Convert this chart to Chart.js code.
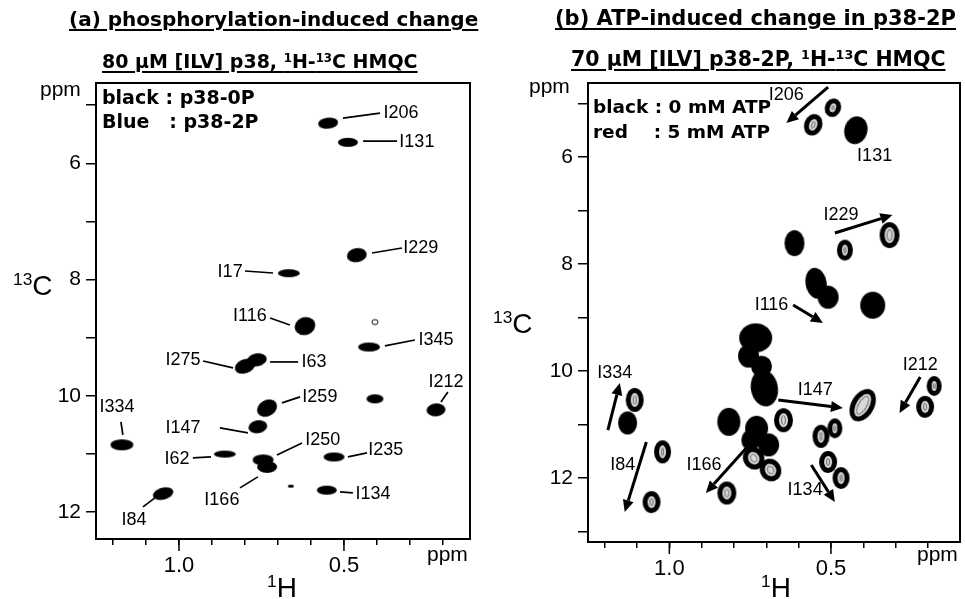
<!DOCTYPE html>
<html>
<head>
<meta charset="utf-8">
<script src="https://cdn.jsdelivr.net/npm/chart.js@4/dist/chart.umd.min.js"></script>
<style>
  body { margin: 0; background: #fff; }
  #fig { position: relative; width: 965px; height: 599px; overflow: hidden; color: #000;
         font-family: 'Liberation Sans', Arial, sans-serif; }
  #fig canvas { position: absolute; top: 0; }
  .t { position: absolute; white-space: pre; line-height: 1; }
  .title { font-family: 'DejaVu Sans'; font-weight: bold; text-decoration: underline; text-decoration-thickness: 2px; text-underline-offset: 3px; }
  .leg { font-family: 'DejaVu Sans'; font-weight: bold; }
  .ax { font-size: 28px; }
  .ppm { font-size: 21px; }
  sup { font-size: 0.62em; vertical-align: 0.55em; line-height: 0; }
</style>
</head>
<body>
<div id="fig">
  <canvas id="chartA" width="482" height="599" style="left:0"></canvas>
  <canvas id="chartB" width="483" height="599" style="left:482px"></canvas>

  <div class="t title" style="left:69px;top:9px;font-size:20px">(a) phosphorylation-induced change</div>
  <div class="t title" style="left:102px;top:52px;font-size:19px">80 μM [ILV] p38, <sup>1</sup>H-<sup>13</sup>C HMQC</div>
  <div class="t leg" style="left:102px;top:88px;font-size:19px">black : p38-0P</div>
  <div class="t leg" style="left:102px;top:112px;font-size:19px">Blue   : p38-2P</div>

  <div class="t title" style="left:555px;top:8px;font-size:21px">(b) ATP-induced change in p38-2P</div>
  <div class="t title" style="left:571px;top:49px;font-size:20.5px">70 μM [ILV] p38-2P, <sup>1</sup>H-<sup>13</sup>C HMQC</div>
  <div class="t leg" style="left:593px;top:98px;font-size:18.5px">black : 0 mM ATP</div>
  <div class="t leg" style="left:593px;top:123px;font-size:18.5px">red    : 5 mM ATP</div>

  <div class="t ppm" style="left:40px;top:78px">ppm</div>
  <div class="t ppm" style="left:529px;top:75px">ppm</div>
  <div class="t ppm" style="left:427px;top:543px">ppm</div>
  <div class="t ppm" style="left:917px;top:543px">ppm</div>
  <div class="t ax" style="left:13px;top:272px"><sup>13</sup>C</div>
  <div class="t ax" style="left:493px;top:310px"><sup>13</sup>C</div>
  <div class="t ax" style="left:267px;top:574px"><sup>1</sup>H</div>
  <div class="t ax" style="left:761px;top:574px"><sup>1</sup>H</div>
</div>

<script>
// axes (ppm)
const hTicks = [1.2, 1.1, 1.0, 0.9, 0.8, 0.7, 0.6, 0.5, 0.4, 0.3, 0.2];
const hTickLabels = [1.0, 0.5];
const cTicksA = [5, 6, 7, 8, 9, 10, 11, 12];
const cTicksB = [5, 6, 7, 8, 9, 10, 11, 12, 13];
const cTickLabels = [6, 8, 10, 12];

/*------------------------------------------
(a) peaks, 1H / 13C ppm
-------------------------------------------*/
const peakHA = [0.548, 0.488, 0.461, 0.667, 0.618, 0.406, 0.424, 0.764, 0.800, 0.406, 0.221,
  0.733, 0.761, 1.173, 0.861, 0.745, 0.733, 0.530, 0.661, 0.552, 1.048];
const peakCA = [5.31, 5.64, 7.58, 7.89, 8.80, 8.73, 9.16, 9.38, 9.49, 10.05, 10.24,
  10.21, 10.53, 10.84, 11.00, 11.10, 11.22, 11.05, 11.55, 11.62, 11.68];

const labelNamesA = ["I206", "I131", "I229", "I17", "I116", "I345", "I275", "I63", "I212",
  "I259", "I334", "I147", "I250", "I62", "I235", "I166", "I134", "I84"];
const labelHA = [0.327, 0.279, 0.267, 0.845, 0.785, 0.221, 0.988, 0.591, 0.191,
  0.573, 1.188, 0.988, 0.564, 1.006, 0.373, 0.870, 0.412, 1.136];
const labelCA = [5.137, 5.636, 7.457, 7.869, 8.625, 9.038, 9.381, 9.416, 9.759,
  10.017, 10.189, 10.55, 10.756, 11.082, 10.928, 11.787, 11.684, 12.131];
// leader lines [h1, c1, h2, c2]
const leadersA = [
  [0.503, 5.223, 0.391, 5.137], [0.442, 5.619, 0.339, 5.619], [0.415, 7.543, 0.324, 7.457],
  [0.800, 7.852, 0.715, 7.887], [0.724, 8.660, 0.664, 8.780], [0.376, 9.141, 0.285, 9.038],
  [0.927, 9.399, 0.836, 9.519], [0.724, 9.416, 0.639, 9.416], [0.185, 9.931, 0.206, 10.103],
  [0.688, 10.120, 0.633, 10.017], [1.176, 10.447, 1.170, 10.670], [0.876, 10.550, 0.791, 10.636],
  [0.703, 11.014, 0.627, 10.808], [0.958, 11.065, 0.903, 11.048], [0.488, 11.048, 0.430, 10.979],
  [0.815, 11.581, 0.761, 11.392], [0.512, 11.649, 0.473, 11.667], [1.109, 11.907, 1.073, 11.753],
];

/*------------------------------------------
(b) peaks, 1H / 13C ppm
-------------------------------------------*/
const peakHB = [0.494, 0.555, 0.423, 0.613, 0.457, 0.319, 0.546, 0.509, 0.371, 0.733, 0.755,
  0.715, 0.706, 1.107, 1.129, 1.021, 1.055, 0.816, 0.730, 0.693, 0.647, 0.748, 0.739, 0.687,
  0.822, 0.402, 0.531, 0.488, 0.509, 0.469, 0.181, 0.209];
const peakCB = [5.08, 5.40, 5.50, 7.61, 7.74, 7.46, 8.36, 8.62, 8.77, 9.38, 9.72,
  9.91, 10.32, 10.54, 10.97, 11.51, 12.45, 10.95, 11.07, 11.38, 10.92, 11.29, 11.63, 11.85,
  12.28, 10.64, 11.22, 11.07, 11.70, 12.00, 10.28, 10.67];

const labelNamesB = ["I206", "I131", "I229", "I116", "I334", "I84", "I166", "I147", "I134", "I212"];
const labelHB = [0.638, 0.365, 0.469, 0.684, 1.169, 1.144, 0.893, 0.549, 0.580, 0.224];
const labelCB = [4.841, 5.98, 7.084, 8.766, 10.037, 11.757, 11.757, 10.355, 12.224, 9.888];
// arrows tail -> head [h1, c1, h2, c2]
const arrowsB = [
  [0.509, 4.692, 0.638, 5.364], [0.488, 7.421, 0.310, 7.084], [0.617, 8.766, 0.525, 9.103],
  [1.190, 11.103, 1.153, 10.224], [1.071, 11.327, 1.138, 12.636], [0.748, 11.346, 0.887, 12.28],
  [0.663, 10.542, 0.463, 10.692], [0.561, 11.757, 0.488, 12.449], [0.224, 10.112, 0.288, 10.785],
];

// drawing styles for the peaks: [width px, height px, rotation deg, kind]
const shapesA = [
  [20, 11, -6, "solid"], [20, 9, 0, "solid"], [20, 14, -10, "solid"], [22, 8, 0, "solid"],
  [21, 18, -20, "solid"], [6, 5, 0, "open"], [22, 9, 0, "solid"], [20, 13, -10, "solid"],
  [21, 14, -20, "solid"], [17, 9, 0, "solid"], [19, 13, -5, "solid"], [21, 16, -30, "solid"],
  [19, 13, -10, "solid"], [23, 11, 0, "solid"], [22, 7, 0, "solid"], [21, 11, 0, "solid"],
  [20, 12, 0, "solid"], [21, 9, 0, "solid"], [6, 3, 0, "solid"], [20, 9, 0, "solid"],
  [21, 12, -15, "solid"],
];
const shapesB = [
  [16, 19, 20, "ring"], [18, 22, 20, "ring"], [23, 28, 15, "solid"], [20, 26, 0, "solid"],
  [16, 21, 0, "ring"], [20, 26, 0, "ring"], [21, 31, -10, "solid"], [21, 23, 0, "solid"],
  [25, 27, 0, "solid"], [33, 29, 0, "solid"], [21, 23, 0, "solid"], [21, 21, 0, "solid"],
  [27, 37, -10, "solid"], [18, 24, 0, "ring"], [19, 23, 0, "solid"], [17, 23, 0, "ring"],
  [18, 22, 0, "ring"], [23, 28, 0, "solid"], [23, 25, 0, "solid"], [21, 23, 0, "solid"],
  [19, 24, 0, "ring"], [19, 21, 0, "solid"], [21, 23, -30, "ring"], [21, 23, -30, "ring"],
  [19, 23, 0, "ring"], [23, 35, 30, "ring"], [17, 23, 0, "ring"], [15, 20, 0, "ring"],
  [18, 22, 0, "ring"], [17, 22, 0, "ring"], [15, 20, 0, "ring"], [18, 22, 0, "ring"],
];

function makeSprite(w, h, kind) {
  const c = document.createElement("canvas");
  c.width = w + 4;
  c.height = h + 4;
  const g = c.getContext("2d");
  const cx = c.width / 2, cy = c.height / 2;
  g.fillStyle = "#000";
  g.strokeStyle = "#000";
  if (kind === "open") {
    g.lineWidth = 1;
    g.beginPath();
    g.ellipse(cx, cy, w / 2, h / 2, 0, 0, 2 * Math.PI);
    g.stroke();
    return c;
  }
  g.beginPath();
  g.ellipse(cx, cy, w / 2, h / 2, 0, 0, 2 * Math.PI);
  g.fill();
  if (kind === "ring") {
    g.fillStyle = "#dadada";
    g.beginPath();
    g.ellipse(cx, cy, Math.max(1.5, w / 2 - 5), Math.max(2, h / 2 - 5), 0, 0, 2 * Math.PI);
    g.fill();
    g.strokeStyle = "#666";
    g.lineWidth = 1;
    g.beginPath();
    g.ellipse(cx, cy, Math.max(1, w / 2 - 7.5), Math.max(1.5, h / 2 - 7.5), 0, 0, 2 * Math.PI);
    g.stroke();
  }
  return c;
}

function drawArrow(ctx, x1, y1, x2, y2) {
  const ang = Math.atan2(y2 - y1, x2 - x1);
  const head = 12, half = 5.5;
  const bx = x2 - head * Math.cos(ang), by = y2 - head * Math.sin(ang);
  ctx.lineWidth = 3;
  ctx.beginPath();
  ctx.moveTo(x1, y1);
  ctx.lineTo(bx, by);
  ctx.stroke();
  ctx.beginPath();
  ctx.moveTo(x2, y2);
  ctx.lineTo(bx + half * Math.sin(ang), by - half * Math.cos(ang));
  ctx.lineTo(bx - half * Math.sin(ang), by + half * Math.cos(ang));
  ctx.closePath();
  ctx.fill();
}

// frame, major tick extension, labels, leader lines and arrows
function annotator(cfg) {
  return {
    id: "annot",
    afterDatasetsDraw(chart) {
      const { ctx, chartArea: a, scales } = chart;
      const px = (h) => scales.x.getPixelForValue(h);
      const py = (c) => scales.y.getPixelForValue(c);
      ctx.save();
      ctx.strokeStyle = "#000";
      ctx.fillStyle = "#000";
      ctx.lineWidth = 2;
      ctx.strokeRect(a.left, a.top, a.right - a.left, a.bottom - a.top);
      ctx.lineWidth = 1.5;
      hTickLabels.forEach((v) => {
        ctx.beginPath();
        ctx.moveTo(px(v), a.bottom);
        ctx.lineTo(px(v), a.bottom + 12);
        ctx.stroke();
      });
      (cfg.leaders || []).forEach((l) => {
        ctx.lineWidth = 1.7;
        ctx.beginPath();
        ctx.moveTo(px(l[0]), py(l[1]));
        ctx.lineTo(px(l[2]), py(l[3]));
        ctx.stroke();
      });
      (cfg.arrows || []).forEach((l) => drawArrow(ctx, px(l[0]), py(l[1]), px(l[2]), py(l[3])));
      ctx.font = "18px 'Liberation Sans', Arial, sans-serif";
      ctx.textAlign = "center";
      ctx.textBaseline = "middle";
      cfg.labelNames.forEach((n, i) => ctx.fillText(n, px(cfg.labelH[i]), py(cfg.labelC[i])));
      ctx.restore();
    },
  };
}

function makeChart(id, cfg) {
  const sprites = cfg.shapes.map((s) => makeSprite(s[0], s[1], s[3]));
  const tickFont = { family: "'Liberation Sans', Arial, sans-serif" };
  return new Chart(document.getElementById(id).getContext("2d"), {
    type: "scatter",
    data: {
      datasets: [
        {
          data: cfg.h.map((h, i) => ({ x: h, y: cfg.c[i] })),
          pointStyle: (ctx) => sprites[ctx.dataIndex],
          rotation: (ctx) => cfg.shapes[ctx.dataIndex][2],
          pointRadius: 3,
        },
      ],
    },
    options: {
      responsive: false,
      animation: false,
      events: [],
      layout: { padding: cfg.padding },
      plugins: { legend: { display: false }, tooltip: { enabled: false } },
      scales: {
        x: {
          type: "linear",
          reverse: true,
          min: cfg.xMin,
          max: cfg.xMax,
          afterBuildTicks: (s) => { s.ticks = hTicks.map((v) => ({ value: v })); },
          afterFit: (s) => { s.height = cfg.xHeight; },
          ticks: {
            autoSkip: false,
            maxRotation: 0,
            padding: 8,
            color: "#000",
            font: { ...tickFont, size: 22 },
            callback: (v) => (hTickLabels.some((t) => Math.abs(t - v) < 1e-6) ? v.toFixed(1) : ""),
          },
          grid: { drawOnChartArea: false, tickLength: 6, color: "#000", lineWidth: 1.5 },
          border: { color: "#000", width: 2 },
        },
        y: {
          type: "linear",
          reverse: true,
          min: cfg.yMin,
          max: cfg.yMax,
          afterBuildTicks: (s) => { s.ticks = cfg.cTicks.map((v) => ({ value: v })); },
          afterFit: (s) => { s.width = cfg.yWidth; },
          ticks: {
            autoSkip: false,
            padding: 5,
            color: "#000",
            font: { ...tickFont, size: 21 },
            callback: (v) => (cTickLabels.includes(v) ? String(v) : ""),
          },
          grid: { drawOnChartArea: false, tickLength: 10, color: "#000", lineWidth: 1.5 },
          border: { color: "#000", width: 2 },
        },
      },
    },
    plugins: [annotator(cfg)],
  });
}

const chartA = makeChart("chartA", {
  h: peakHA, c: peakCA, shapes: shapesA,
  labelNames: labelNamesA, labelH: labelHA, labelC: labelCA, leaders: leadersA,
  cTicks: cTicksA,
  xMin: 0.118, xMax: 1.2515, yMin: 4.62, yMax: 12.46,
  padding: { top: 83, left: 0, right: 12, bottom: 0 },
  yWidth: 96, xHeight: 60,
});

const chartB = makeChart("chartB", {
  h: peakHB, c: peakCB, shapes: shapesB,
  labelNames: labelNamesB, labelH: labelHB, labelC: labelCB, arrows: arrowsB,
  cTicks: cTicksB,
  xMin: 0.101, xMax: 1.2515, yMin: 4.617, yMax: 13.196,
  padding: { top: 83, left: 0, right: 2, bottom: 0 },
  yWidth: 106, xHeight: 57,
});
</script>
</body>
</html>
